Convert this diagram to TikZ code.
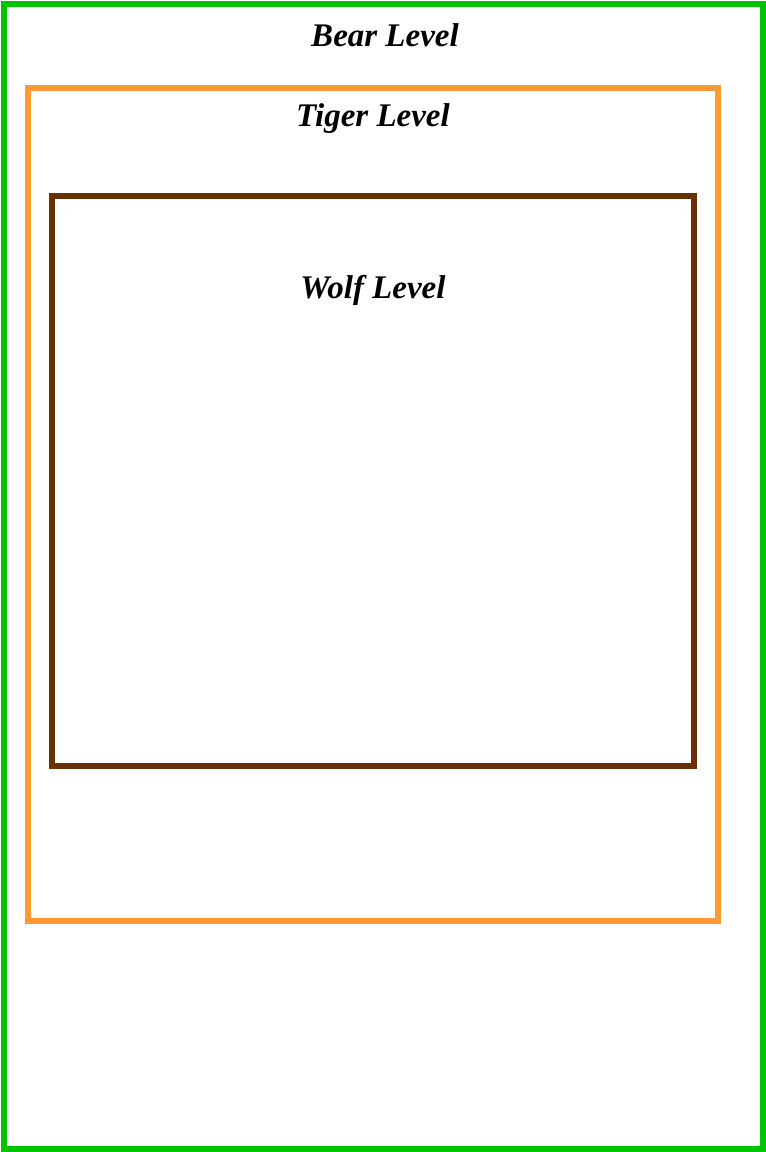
\documentclass[tikz,border=0pt]{standalone}
\usepackage{fontspec}
\setmainfont{Liberation Serif}
\definecolor{beargreen}{RGB}{0,196,0}
\definecolor{tigerorange}{RGB}{255,153,51}
\definecolor{wolfbrown}{RGB}{102,51,0}
\begin{document}
\begin{tikzpicture}[x=1pt,y=-1pt,
  levelbox/.style={draw,line width=5.5pt},
  leveltitle/.style={font=\fontsize{33}{36}\selectfont\bfseries\itshape,anchor=center}]
\useasboundingbox (0,0) rectangle (766,1152);
\node[levelbox,beargreen,minimum width=759pt,minimum height=1145pt,inner sep=0pt] (bear) at (383.5,576.5) {};
\node[levelbox,tigerorange,minimum width=690pt,minimum height=833pt,inner sep=0pt] (tiger) at (373,504.5) {};
\node[levelbox,wolfbrown,minimum width=642pt,minimum height=570pt,inner sep=0pt] (wolf) at (373,481) {};
\node[leveltitle] (beart) at (385,35) {Bear Level};
\node[leveltitle] (tigert) at (373,119) {Tiger Level};
\node[leveltitle] (wolft) at (373,290) {Wolf Level};
\end{tikzpicture}
\end{document}
